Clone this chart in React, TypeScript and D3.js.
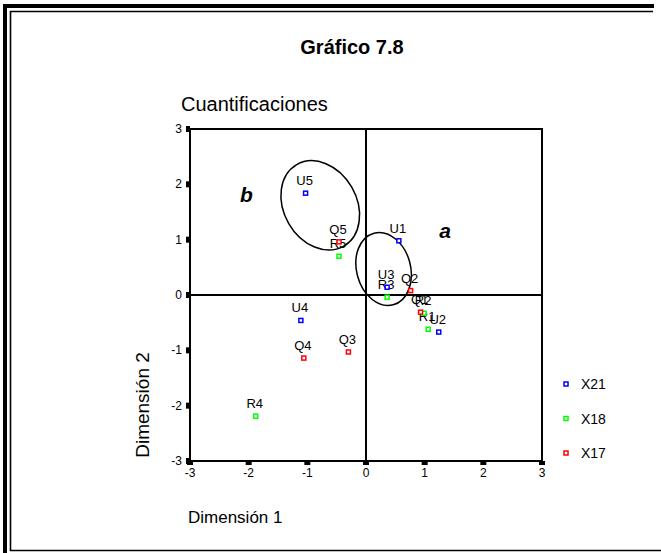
import React, { useRef, useEffect } from 'react'
import * as d3 from 'd3'

// Gráfico 7.8 — cuantificaciones (dimensión 1 x dimensión 2)
const xTicks = [-3, -2, -1, 0, 1, 2, 3]
const yTicks = [-3, -2, -1, 0, 1, 2, 3]

// X21 (azul)
const uLabels = ['U1', 'U2', 'U3', 'U4', 'U5']
const uX = [0.56, 1.24, 0.36, -1.11, -1.03]
const uY = [0.98, -0.67, 0.14, -0.46, 1.84]

// X18 (verde)
const rLabels = ['R1', 'R2', 'R3', 'R4', 'R5']
const rX = [1.06, 0.99, 0.36, -1.88, -0.46]
const rY = [-0.62, -0.33, -0.04, -2.19, 0.7]

// X17 (rojo)
const qLabels = ['Q1', 'Q2', 'Q3', 'Q4', 'Q5']
const qX = [0.93, 0.76, -0.3, -1.06, -0.46]
const qY = [-0.31, 0.08, -1.03, -1.14, 0.96]

const seriesNames = ['X21', 'X18', 'X17']
const seriesColors = ['#0000ff', '#00ff00', '#ff0000']

// elipses de agrupamiento (centro, semiejes en unidades de datos, giro en grados)
const ellipseNames = ['b', 'a']
const ellipseCx = [-0.78, 0.3]
const ellipseCy = [1.62, 0.47]
const ellipseRx = [0.62, 0.46]
const ellipseRy = [0.85, 0.67]
const ellipseRot = [-30, -15]
const letterX = [-2.04, 1.35]
const letterY = [1.83, 1.17]

export default function App() {
  const svgRef = useRef<SVGSVGElement>(null)

  useEffect(() => {
    const svg = d3.select(svgRef.current)
    svg.selectAll('*').remove()

    const font = 'Arial, "Liberation Sans", Helvetica, sans-serif'
    const left = 190
    const right = 542
    const top = 129
    const bottom = 461

    const x = d3.scaleLinear().domain([-3, 3]).range([left, right])
    const y = d3.scaleLinear().domain([-3, 3]).range([bottom, top])

    svg.append('rect').attr('width', 661).attr('height', 553).attr('fill', '#fff')

    // marco doble
    svg.append('path')
      .attr('d', 'M654,6 L5,6 L5,553')
      .attr('fill', 'none').attr('stroke', '#000').attr('stroke-width', 4)
    svg.append('path')
      .attr('d', 'M653,11.5 L10.5,11.5 L10.5,550.5 L661,550.5')
      .attr('fill', 'none').attr('stroke', '#000').attr('stroke-width', 1.6)

    svg.append('text')
      .attr('x', 352).attr('y', 54)
      .attr('text-anchor', 'middle')
      .style('font-family', font).style('font-size', '20px').style('font-weight', '700')
      .text('Gráfico 7.8')

    svg.append('text')
      .attr('x', 181).attr('y', 111)
      .style('font-family', font).style('font-size', '20px')
      .text('Cuantificaciones')

    const g = svg.append('g')

    // caja del gráfico y ejes en cero
    g.append('rect')
      .attr('x', left).attr('y', top)
      .attr('width', right - left).attr('height', bottom - top)
      .attr('fill', 'none').attr('stroke', '#000').attr('stroke-width', 2)
    g.append('line')
      .attr('x1', x(0)).attr('x2', x(0)).attr('y1', top).attr('y2', bottom)
      .attr('stroke', '#000').attr('stroke-width', 2)
    g.append('line')
      .attr('x1', left).attr('x2', right).attr('y1', y(0)).attr('y2', y(0))
      .attr('stroke', '#000').attr('stroke-width', 2)

    // marcas de escala
    xTicks.forEach((t) => {
      g.append('rect')
        .attr('x', x(t) - 3).attr('y', bottom)
        .attr('width', 6).attr('height', 4).attr('fill', '#000')
      g.append('text')
        .attr('x', x(t)).attr('y', bottom + 16)
        .attr('text-anchor', 'middle')
        .style('font-family', font).style('font-size', '12px')
        .text(t)
    })
    yTicks.forEach((t) => {
      g.append('rect')
        .attr('x', left - 4).attr('y', y(t) - 3)
        .attr('width', 4).attr('height', 6).attr('fill', '#000')
      g.append('text')
        .attr('x', left - 8).attr('y', y(t) + 4)
        .attr('text-anchor', 'end')
        .style('font-family', font).style('font-size', '12px')
        .text(t)
    })

    svg.append('text')
      .attr('x', 188).attr('y', 523)
      .style('font-family', font).style('font-size', '17px')
      .text('Dimensión 1')
    svg.append('text')
      .attr('transform', 'translate(149, 405) rotate(-90)')
      .attr('text-anchor', 'middle')
      .style('font-family', font).style('font-size', '19px')
      .text('Dimensión 2')

    // elipses
    ellipseNames.forEach((n, i) => {
      const cx = x(ellipseCx[i])
      const cy = y(ellipseCy[i])
      g.append('ellipse')
        .attr('cx', 0).attr('cy', 0)
        .attr('rx', x(ellipseRx[i]) - x(0))
        .attr('ry', y(0) - y(ellipseRy[i]))
        .attr('transform', `translate(${cx}, ${cy}) rotate(${ellipseRot[i]})`)
        .attr('fill', 'none').attr('stroke', '#000').attr('stroke-width', 1.5)
      g.append('text')
        .attr('x', x(letterX[i])).attr('y', y(letterY[i]) + 8)
        .attr('text-anchor', 'middle')
        .style('font-family', font).style('font-size', '21px')
        .style('font-weight', '700').style('font-style', 'italic')
        .text(n)
    })

    const groups = [
      { labels: uLabels, xs: uX, ys: uY },
      { labels: rLabels, xs: rX, ys: rY },
      { labels: qLabels, xs: qX, ys: qY },
    ]

    // etiquetas primero, puntos encima
    groups.forEach((s) => {
      s.labels.forEach((lab, i) => {
        g.append('text')
          .attr('x', x(s.xs[i]) - 1).attr('y', y(s.ys[i]) - 8)
          .attr('text-anchor', 'middle')
          .style('font-family', font).style('font-size', '13px')
          .text(lab)
      })
    })
    groups.forEach((s, k) => {
      s.labels.forEach((lab, i) => {
        g.append('rect')
          .attr('x', x(s.xs[i]) - 2).attr('y', y(s.ys[i]) - 2)
          .attr('width', 4).attr('height', 4)
          .attr('fill', '#fff').attr('stroke', seriesColors[k]).attr('stroke-width', 1.5)
      })
    })

    // leyenda
    const legendY = d3.scalePoint<string>().domain(seriesNames).range([384, 453])
    seriesNames.forEach((n, k) => {
      const ly = legendY(n) as number
      svg.append('rect')
        .attr('x', 564).attr('y', ly - 2)
        .attr('width', 4).attr('height', 4)
        .attr('fill', '#fff').attr('stroke', seriesColors[k]).attr('stroke-width', 1.5)
      svg.append('text')
        .attr('x', 581).attr('y', ly + 5)
        .style('font-family', font).style('font-size', '14px')
        .text(n)
    })
  }, [])

  return (
    <svg
      ref={svgRef}
      width={661}
      height={553}
      style={{ position: 'absolute', left: 0, top: 0 }}
    />
  )
}
